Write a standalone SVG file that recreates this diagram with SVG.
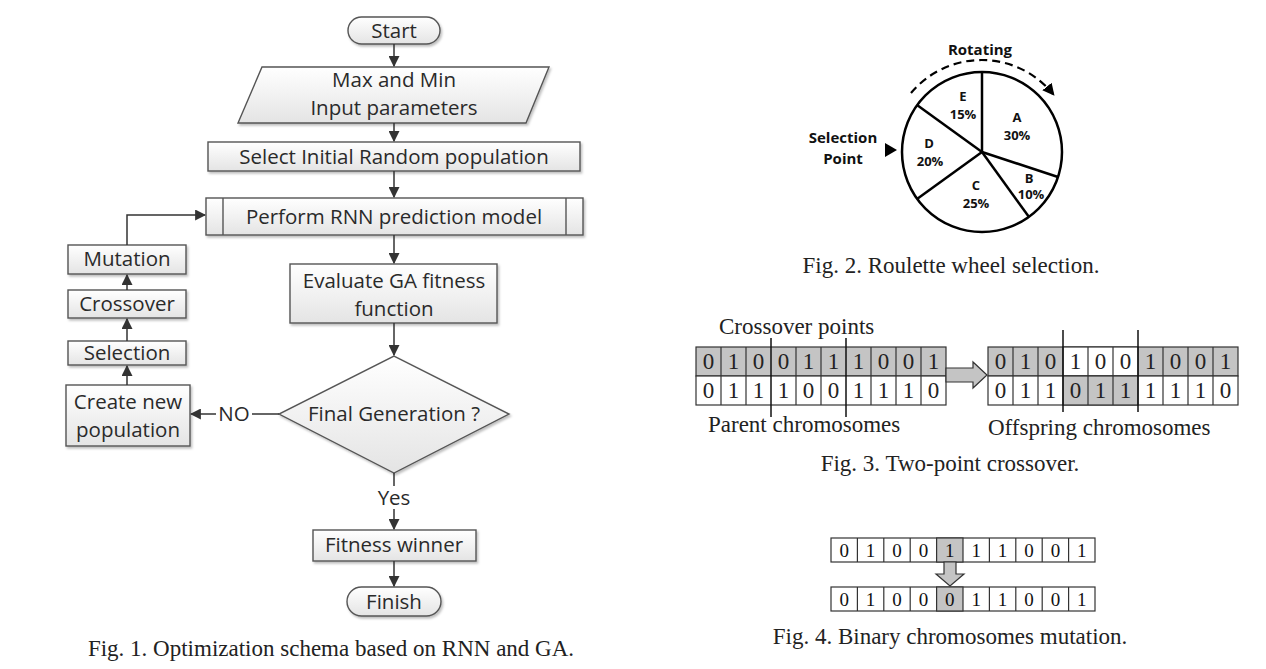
<svg xmlns="http://www.w3.org/2000/svg" width="1266" height="669" viewBox="0 0 1266 669">
<defs>
  <linearGradient id="boxfill" x1="0" y1="0" x2="0" y2="1">
    <stop offset="0" stop-color="#ffffff"/>
    <stop offset="1" stop-color="#e4e4e4"/>
  </linearGradient>
  <filter id="shadow" x="-10%" y="-10%" width="130%" height="140%">
    <feDropShadow dx="1.5" dy="2" stdDeviation="1.2" flood-color="#000" flood-opacity="0.25"/>
  </filter>
  <marker id="arr" viewBox="0 0 10 10" refX="9" refY="5" markerWidth="11" markerHeight="11" markerUnits="userSpaceOnUse" orient="auto">
    <path d="M0,0 L10,5 L0,10 z" fill="#333"/>
  </marker>
  <marker id="arrk" viewBox="0 0 10 10" refX="8" refY="5" markerWidth="12" markerHeight="12" markerUnits="userSpaceOnUse" orient="auto">
    <path d="M0,0 L10,5 L0,10 z" fill="#000"/>
  </marker>
</defs>
<style>
  .box { fill: url(#boxfill); stroke: #555; stroke-width: 1.4; filter: url(#shadow); }
  .fc { font-family: "Open Sans", "Liberation Sans", sans-serif; font-size: 20.5px; fill: #2a2a2a; text-anchor: middle; dominant-baseline: central; }
  .conn { stroke: #333; stroke-width: 1.5; fill: none; }
  .cap { font-family: "Liberation Serif", serif; font-size: 23px; fill: #222; text-anchor: middle; }
  .pie { font-family: "Open Sans", "Liberation Sans", sans-serif; font-weight: bold; font-size: 13px; fill: #111; text-anchor: middle; dominant-baseline: central; }
  .pl { font-family: "Open Sans", "Liberation Sans", sans-serif; font-weight: bold; font-size: 15px; fill: #111; text-anchor: middle; dominant-baseline: central; }
  .cell { stroke: #333; stroke-width: 1.2; }
  .g { fill: #c4c4c4; }
  .w { fill: #ffffff; }
  .dg { font-family: "Liberation Serif", serif; font-size: 23px; fill: #222; text-anchor: middle; dominant-baseline: central; }
  .dm { font-family: "Liberation Serif", serif; font-size: 19px; fill: #111; text-anchor: middle; dominant-baseline: central; }
  .ser { font-family: "Liberation Serif", serif; font-size: 23px; fill: #222; }
</style>

<!-- Figure 1: flowchart -->
<g id="start">
  <rect x="348" y="17" width="92" height="27" rx="13.5" class="box"/>
  <text x="394" y="30" class="fc">Start</text>
</g>
<g id="input">
  <polygon points="262,67 549,67 526,123 238,123" class="box"/>
  <text x="394" y="79" class="fc">Max and Min</text>
  <text x="394" y="107" class="fc">Input parameters</text>
</g>
<g id="select-initial">
  <rect x="208" y="142" width="372" height="29" class="box"/>
  <text x="394" y="156" class="fc">Select Initial Random population</text>
</g>
<g id="perform-rnn">
  <rect x="206" y="198" width="377" height="37" class="box"/>
  <line x1="223" y1="198" x2="223" y2="235" stroke="#555" stroke-width="1.4"/>
  <line x1="566" y1="198" x2="566" y2="235" stroke="#555" stroke-width="1.4"/>
  <text x="394" y="216" class="fc">Perform RNN prediction model</text>
</g>
<g id="evaluate">
  <rect x="290" y="264" width="207" height="59" class="box"/>
  <text x="394" y="280" class="fc">Evaluate GA fitness</text>
  <text x="394" y="308" class="fc">function</text>
</g>
<g id="final-generation">
  <polygon points="394,356 509,414 394,473 279,414" class="box"/>
  <text x="394" y="413" class="fc">Final Generation ?</text>
</g>
<g id="fitness-winner">
  <rect x="313" y="530" width="163" height="31" class="box"/>
  <text x="394" y="544" class="fc">Fitness winner</text>
</g>
<g id="finish">
  <rect x="347" y="587" width="94" height="29" rx="14.5" class="box"/>
  <text x="394" y="601" class="fc">Finish</text>
</g>
<g id="create-new">
  <rect x="66" y="385" width="124" height="61" class="box"/>
  <text x="128" y="401" class="fc">Create new</text>
  <text x="128" y="429" class="fc">population</text>
</g>
<g id="selection">
  <rect x="68" y="341" width="118" height="24" class="box"/>
  <text x="127" y="352" class="fc">Selection</text>
</g>
<g id="crossover">
  <rect x="68" y="290" width="118" height="28" class="box"/>
  <text x="127" y="303" class="fc">Crossover</text>
</g>
<g id="mutation">
  <rect x="68" y="245" width="118" height="29" class="box"/>
  <text x="127" y="258" class="fc">Mutation</text>
</g>

<g id="connectors">
  <line x1="394" y1="44" x2="394" y2="66" class="conn" marker-end="url(#arr)"/>
  <line x1="394" y1="123" x2="394" y2="141" class="conn" marker-end="url(#arr)"/>
  <line x1="394" y1="171" x2="394" y2="197" class="conn" marker-end="url(#arr)"/>
  <line x1="394" y1="235" x2="394" y2="263" class="conn" marker-end="url(#arr)"/>
  <line x1="394" y1="323" x2="394" y2="355" class="conn" marker-end="url(#arr)"/>
  <line x1="394" y1="473" x2="394" y2="486" class="conn"/>
  <text x="394" y="497" class="fc">Yes</text>
  <line x1="394" y1="509" x2="394" y2="529" class="conn" marker-end="url(#arr)"/>
  <line x1="394" y1="561" x2="394" y2="586" class="conn" marker-end="url(#arr)"/>
  <line x1="279" y1="414" x2="252" y2="414" class="conn"/>
  <text x="234" y="413" class="fc">NO</text>
  <line x1="216" y1="414" x2="191" y2="414" class="conn" marker-end="url(#arr)"/>
  <line x1="127" y1="385" x2="127" y2="366" class="conn" marker-end="url(#arr)"/>
  <line x1="127" y1="341" x2="127" y2="319" class="conn" marker-end="url(#arr)"/>
  <line x1="127" y1="290" x2="127" y2="275" class="conn" marker-end="url(#arr)"/>
  <polyline points="127,245 127,215 205,215" class="conn" marker-end="url(#arr)"/>
</g>
<text x="331" y="656" class="cap">Fig. 1. Optimization schema based on RNN and GA.</text>

<!-- Figure 2: roulette wheel -->
<g id="roulette">
  <circle cx="982" cy="152" r="80" fill="#fff" stroke="#000" stroke-width="2.5"/>
  <g stroke="#000" stroke-width="2.5">
    <line x1="982" y1="152" x2="982" y2="72"/>
    <line x1="982" y1="152" x2="1058" y2="177"/>
    <line x1="982" y1="152" x2="1029" y2="217"/>
    <line x1="982" y1="152" x2="917" y2="199"/>
    <line x1="982" y1="152" x2="917" y2="105"/>
  </g>
  <text x="963" y="96" class="pie">E</text>
  <text x="963" y="114" class="pie">15%</text>
  <text x="1017" y="117" class="pie">A</text>
  <text x="1017" y="135" class="pie">30%</text>
  <text x="929" y="143" class="pie">D</text>
  <text x="930" y="161" class="pie">20%</text>
  <text x="976" y="185" class="pie">C</text>
  <text x="976" y="203" class="pie">25%</text>
  <text x="1029" y="178" class="pie">B</text>
  <text x="1031" y="194" class="pie">10%</text>
  <text x="980" y="49" class="pl">Rotating</text>
  <path d="M911,93 A92,92 0 0 1 1053,94" fill="none" stroke="#000" stroke-width="2.2" stroke-dasharray="8,5" marker-end="url(#arrk)"/>
  <text x="843" y="137" class="pl">Selection</text>
  <text x="843" y="158" class="pl">Point</text>
  <polygon points="885,143 897,150 885,157" fill="#000"/>
</g>
<text x="951" y="273" class="cap">Fig. 2. Roulette wheel selection.</text>

<!-- Figure 3: two-point crossover -->
<g id="crossover-fig">
  <text x="719" y="334" class="ser">Crossover points</text>
  <g class="cell">
    <rect x="696" y="347" width="250" height="29" class="g"/>
    <rect x="696" y="376" width="250" height="29" class="w"/>
  </g>
  <g stroke="#333" stroke-width="1.2">
    <line x1="721" y1="347" x2="721" y2="405"/><line x1="746" y1="347" x2="746" y2="405"/>
    <line x1="796" y1="347" x2="796" y2="405"/><line x1="821" y1="347" x2="821" y2="405"/>
    <line x1="871" y1="347" x2="871" y2="405"/><line x1="896" y1="347" x2="896" y2="405"/>
    <line x1="921" y1="347" x2="921" y2="405"/>
  </g>
  <g stroke="#111" stroke-width="1.5">
    <line x1="771" y1="338" x2="771" y2="417"/>
    <line x1="846" y1="338" x2="846" y2="417"/>
  </g>
  <g class="dg">
    <text x="708.5" y="361">0</text><text x="733.5" y="361">1</text><text x="758.5" y="361">0</text><text x="783.5" y="361">0</text><text x="808.5" y="361">1</text>
    <text x="833.5" y="361">1</text><text x="858.5" y="361">1</text><text x="883.5" y="361">0</text><text x="908.5" y="361">0</text><text x="933.5" y="361">1</text>
    <text x="708.5" y="390">0</text><text x="733.5" y="390">1</text><text x="758.5" y="390">1</text><text x="783.5" y="390">1</text><text x="808.5" y="390">0</text>
    <text x="833.5" y="390">0</text><text x="858.5" y="390">1</text><text x="883.5" y="390">1</text><text x="908.5" y="390">1</text><text x="933.5" y="390">0</text>
  </g>
  <text x="708" y="432" class="ser">Parent chromosomes</text>

  <polygon points="946,368 973,368 973,362 987,375 973,388 973,382 946,382" fill="#c4c4c4" stroke="#333" stroke-width="1.2"/>

  <g class="cell">
    <rect x="988" y="347" width="250" height="29" class="g"/>
    <rect x="1063" y="347" width="75" height="29" class="w"/>
    <rect x="988" y="376" width="250" height="29" class="w"/>
    <rect x="1063" y="376" width="75" height="29" class="g"/>
  </g>
  <g stroke="#333" stroke-width="1.2">
    <line x1="1013" y1="347" x2="1013" y2="405"/><line x1="1038" y1="347" x2="1038" y2="405"/>
    <line x1="1088" y1="347" x2="1088" y2="405"/><line x1="1113" y1="347" x2="1113" y2="405"/>
    <line x1="1163" y1="347" x2="1163" y2="405"/><line x1="1188" y1="347" x2="1188" y2="405"/>
    <line x1="1213" y1="347" x2="1213" y2="405"/>
  </g>
  <g stroke="#111" stroke-width="1.5">
    <line x1="1063" y1="330" x2="1063" y2="412"/>
    <line x1="1138" y1="330" x2="1138" y2="412"/>
  </g>
  <g class="dg">
    <text x="1000.5" y="361">0</text><text x="1025.5" y="361">1</text><text x="1050.5" y="361">0</text><text x="1075.5" y="361">1</text><text x="1100.5" y="361">0</text>
    <text x="1125.5" y="361">0</text><text x="1150.5" y="361">1</text><text x="1175.5" y="361">0</text><text x="1200.5" y="361">0</text><text x="1225.5" y="361">1</text>
    <text x="1000.5" y="390">0</text><text x="1025.5" y="390">1</text><text x="1050.5" y="390">1</text><text x="1075.5" y="390">0</text><text x="1100.5" y="390">1</text>
    <text x="1125.5" y="390">1</text><text x="1150.5" y="390">1</text><text x="1175.5" y="390">1</text><text x="1200.5" y="390">1</text><text x="1225.5" y="390">0</text>
  </g>
  <text x="988" y="435" class="ser">Offspring chromosomes</text>
</g>
<text x="950" y="471" class="cap">Fig. 3. Two-point crossover.</text>

<!-- Figure 4: mutation -->
<g id="mutation-fig">
  <rect x="831" y="538" width="264" height="24" fill="#fff" stroke="#333" stroke-width="1.2"/>
  <rect x="936.6" y="538" width="26.4" height="24" class="g" stroke="#333" stroke-width="1.2"/>
  <rect x="831" y="587" width="264" height="24" fill="#fff" stroke="#333" stroke-width="1.2"/>
  <rect x="936.6" y="587" width="26.4" height="24" class="g" stroke="#333" stroke-width="1.2"/>
  <g stroke="#333" stroke-width="1.2">
    <line x1="857.4" y1="538" x2="857.4" y2="562"/><line x1="883.8" y1="538" x2="883.8" y2="562"/><line x1="910.2" y1="538" x2="910.2" y2="562"/>
    <line x1="989.4" y1="538" x2="989.4" y2="562"/><line x1="1015.8" y1="538" x2="1015.8" y2="562"/><line x1="1042.2" y1="538" x2="1042.2" y2="562"/><line x1="1068.6" y1="538" x2="1068.6" y2="562"/>
    <line x1="857.4" y1="587" x2="857.4" y2="611"/><line x1="883.8" y1="587" x2="883.8" y2="611"/><line x1="910.2" y1="587" x2="910.2" y2="611"/>
    <line x1="989.4" y1="587" x2="989.4" y2="611"/><line x1="1015.8" y1="587" x2="1015.8" y2="611"/><line x1="1042.2" y1="587" x2="1042.2" y2="611"/><line x1="1068.6" y1="587" x2="1068.6" y2="611"/>
  </g>
  <g class="dm">
    <text x="844.2" y="550">0</text><text x="870.6" y="550">1</text><text x="897" y="550">0</text><text x="923.4" y="550">0</text><text x="949.8" y="550">1</text>
    <text x="976.2" y="550">1</text><text x="1002.6" y="550">1</text><text x="1029" y="550">0</text><text x="1055.4" y="550">0</text><text x="1081.8" y="550">1</text>
    <text x="844.2" y="599">0</text><text x="870.6" y="599">1</text><text x="897" y="599">0</text><text x="923.4" y="599">0</text><text x="949.8" y="599">0</text>
    <text x="976.2" y="599">1</text><text x="1002.6" y="599">1</text><text x="1029" y="599">0</text><text x="1055.4" y="599">0</text><text x="1081.8" y="599">1</text>
  </g>
  <polygon points="944,562 956,562 956,574 964,574 950,586 936,574 944,574" fill="#c4c4c4" stroke="#333" stroke-width="1.2"/>
</g>
<text x="950" y="644" class="cap">Fig. 4. Binary chromosomes mutation.</text>
</svg>
